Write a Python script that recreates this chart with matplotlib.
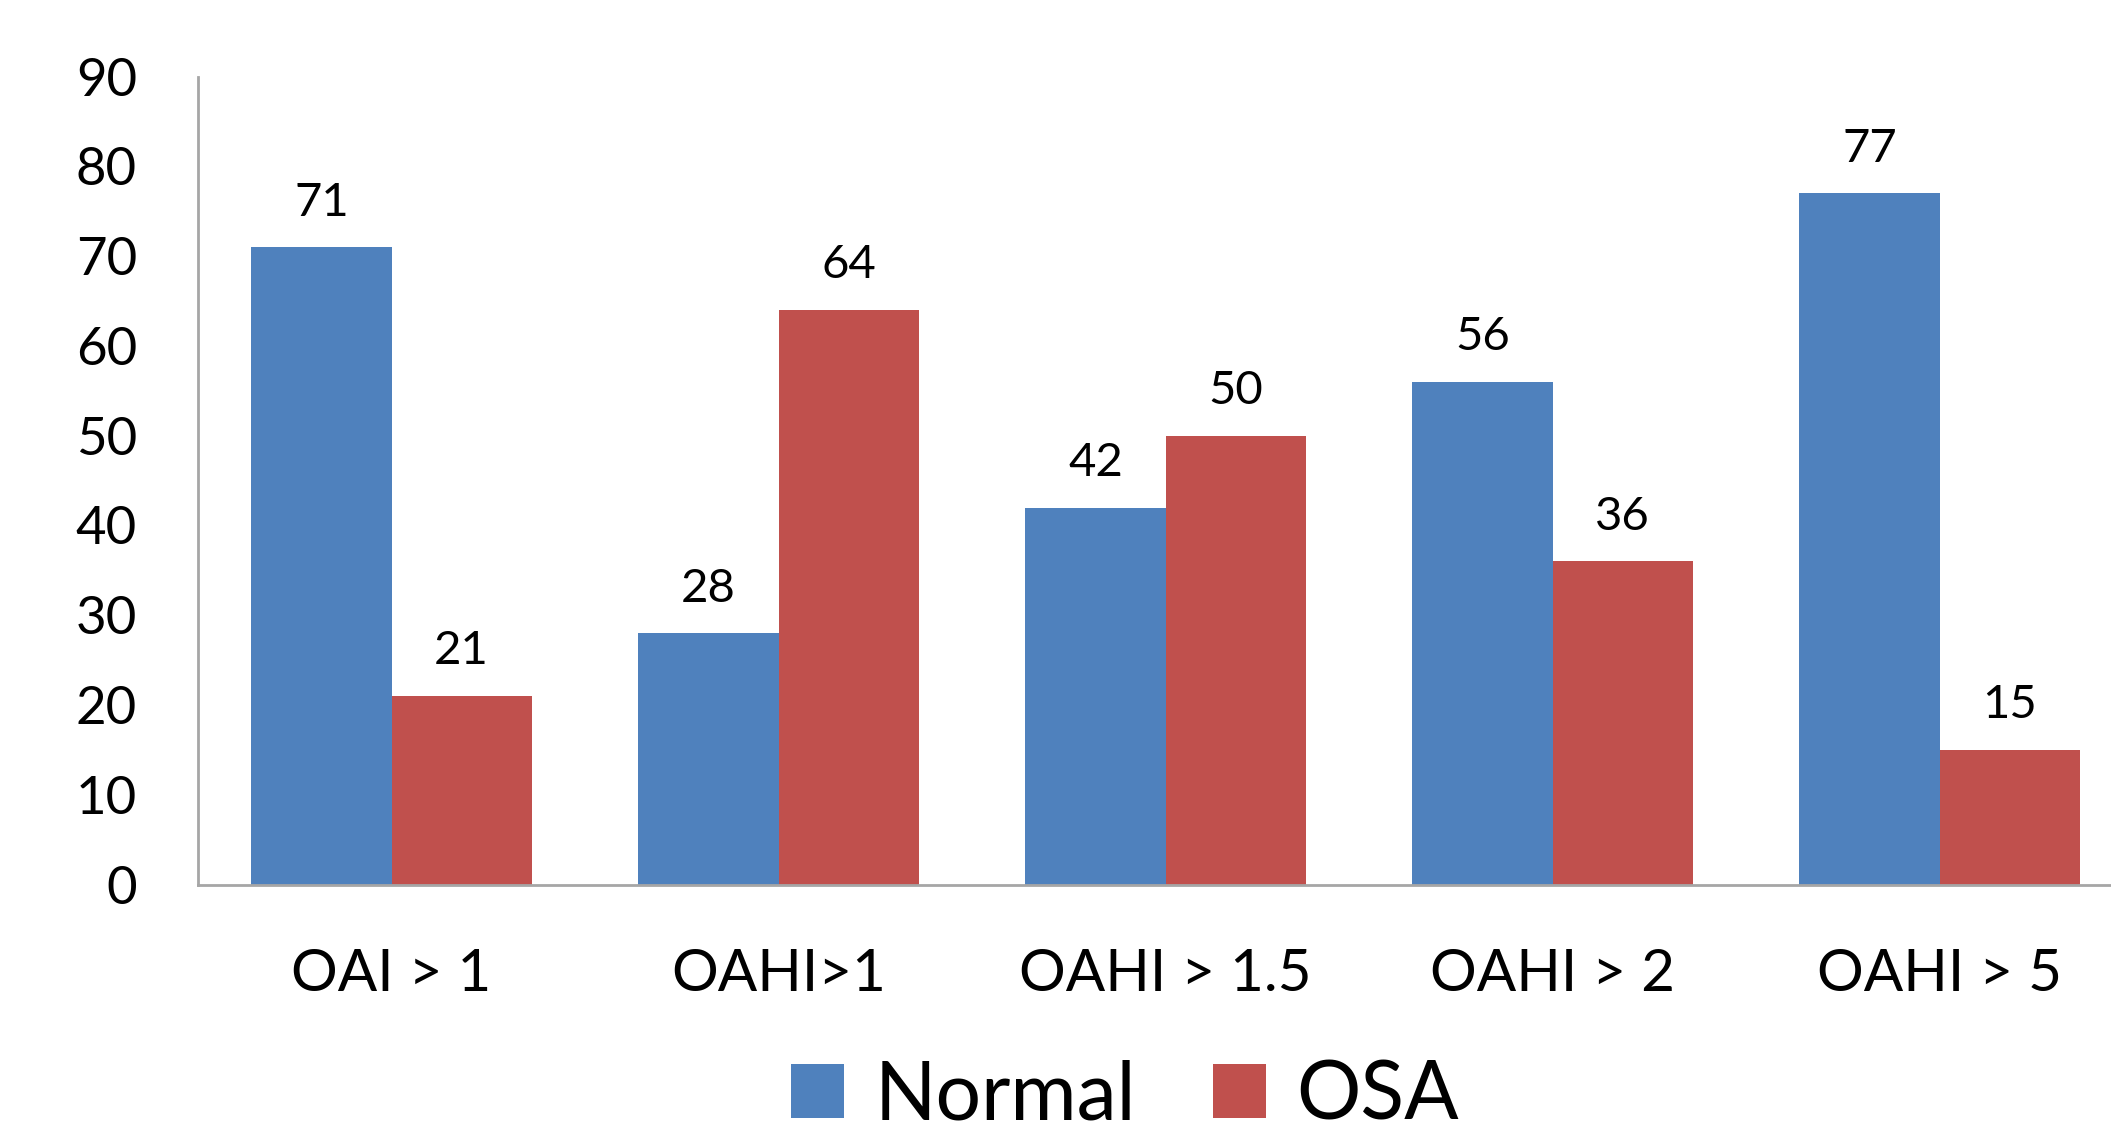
import numpy as np
import matplotlib
matplotlib.use("Agg")
import matplotlib.pyplot as plt

# data
categories = ["OAI > 1", "OAHI>1", "OAHI > 1.5", "OAHI > 2", "OAHI > 5"]
normal = [71, 28, 42, 56, 77]
osa = [21, 64, 50, 36, 15]
series_names = ["Normal", "OSA"]
yticks = [0, 10, 20, 30, 40, 50, 60, 70, 80, 90]

plt.rcParams['font.family'] = ['Lato', 'DejaVu Sans']

fig = plt.figure(figsize=(21.11, 11.34), dpi=100)
# axes runs a little past the right edge, like the cropped original
ax = fig.add_axes([0.0938, 0.220, 0.9167, 0.7124])

x = np.arange(len(categories))
w = 0.3625
b1 = ax.bar(x - w / 2, normal, w, color='#4F81BD', label=series_names[0])
b2 = ax.bar(x + w / 2, osa, w, color='#C0504D', label=series_names[1])

for bars in (b1, b2):
    ax.bar_label(bars, padding=17, fontsize=34)

ax.set_xlim(-0.5, len(categories) - 0.5)
ax.set_ylim(0, 90)
ax.set_yticks(yticks)
ax.set_xticks(x)
ax.set_xticklabels(categories, fontsize=42)
ax.tick_params(axis='y', labelsize=38, length=0, pad=44)
ax.tick_params(axis='x', length=0, pad=46)

for s in ['top', 'right']:
    ax.spines[s].set_visible(False)
for s in ['left', 'bottom']:
    ax.spines[s].set_color('#A6A6A6')
    ax.spines[s].set_linewidth(2)

fig.legend(loc='center', bbox_to_anchor=(0.533, 0.033), ncol=2, frameon=False,
           fontsize=58, handlelength=0.66, handleheight=0.66, handletextpad=0.38,
           columnspacing=0.95)

fig.savefig("out.png", dpi=100)
